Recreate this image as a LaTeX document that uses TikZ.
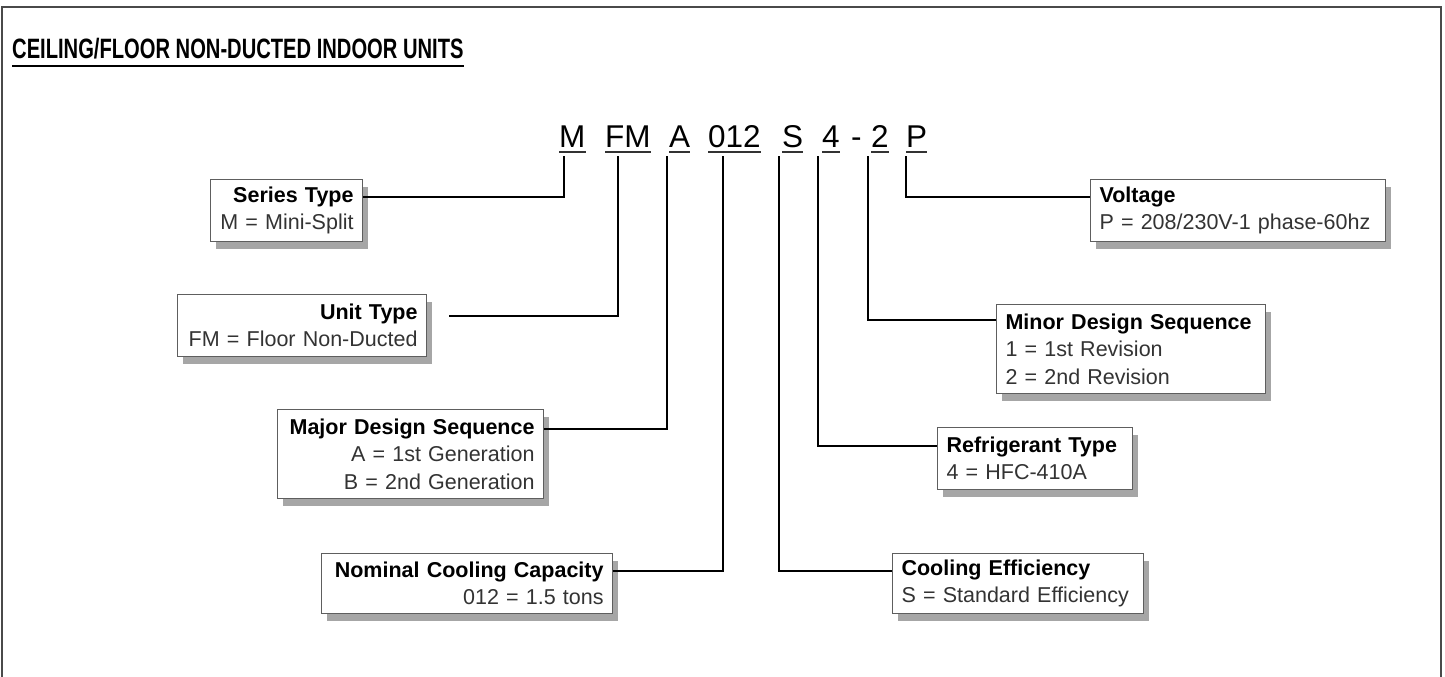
\documentclass[tikz,border=0pt]{standalone}
\usepackage{fontspec}
\setmainfont{Liberation Sans}
\newfontfamily\narrowfont{Liberation Sans}[FakeStretch=0.72]
\usetikzlibrary{shadows}
\definecolor{frame}{HTML}{4A4A4A}
\definecolor{boxline}{HTML}{5E5E5E}
\definecolor{bodytext}{HTML}{333333}
\newcommand\boxhead[1]{\textcolor{black}{\bfseries #1}}

\begin{document}
\begin{tikzpicture}[x=1pt,y=-1pt,
  codebox/.style={draw=boxline,line width=1.1pt,fill=white,inner xsep=9pt,inner ysep=0pt,
    font=\fontsize{21.5}{27.5}\selectfont,text=bodytext,anchor=north west,
    drop shadow={shadow xshift=5pt,shadow yshift=-7pt,opacity=.35,fill=black}},
  leftbox/.style={codebox,align=right},
  rightbox/.style={codebox,align=left},
  letter/.style={anchor=base west,inner sep=0pt,font=\fontsize{31.5}{31.5}\selectfont},
  lead/.style={line width=2pt},
  uline/.style={line width=2pt,draw=black!80}]
  \useasboundingbox (0,0) rectangle (1445,677);
  \draw[frame,line width=1.5pt] (2,700) -- (2,7) -- (1441,7) -- (1441,700);

  \node[anchor=base west,inner sep=0pt,font=\narrowfont\bfseries\fontsize{28}{28}\selectfont]
    (title) at (12,59) {CEILING/FLOOR NON-DUCTED INDOOR UNITS};
  \draw[line width=2.2pt] ([yshift=-7pt]title.base west) -- ([yshift=-7pt]title.base east);

  % model number
  \node[letter] (cM) at (559,147) {M};
  \node[letter] (cFM) at (605,147) {FM};
  \node[letter] (cA) at (669,147) {A};
  \node[letter] (c012) at (708,147) {012};
  \node[letter] (cS) at (782,147) {S};
  \node[letter] (c4) at (822,147) {4};
  \node[letter] (cdash) at (851,147) {-};
  \node[letter] (c2) at (871,147) {2};
  \node[letter] (cP) at (906,147) {P};
  \foreach \c in {cM,cFM,cA,c012,cS,c4,c2,cP}
    \draw[uline] ([yshift=-5pt]\c.base west) -- ([yshift=-5pt]\c.base east);

  \coordinate (tM) at (564,156);
  \coordinate (tFM) at (618,156);
  \coordinate (tA) at (667,156);
  \coordinate (t012) at (723,156);
  \coordinate (tS) at (779,156);
  \coordinate (t4) at (818,156);
  \coordinate (t2) at (868,156);
  \coordinate (tP) at (906,156);

  % left side
  \node[leftbox,text width=134pt,minimum height=62pt] (series) at (210,179)
    {\boxhead{Series Type}\\M = Mini-Split};
  \node[leftbox,text width=231pt,minimum height=62pt] (unit) at (177,294)
    {\boxhead{Unit Type}\\FM = Floor Non-Ducted};
  \node[leftbox,text width=248pt,minimum height=89pt] (major) at (277,409)
    {\boxhead{Major Design Sequence}\\A = 1st Generation\\B = 2nd Generation};
  \node[leftbox,text width=273pt,minimum height=60pt] (nominal) at (321,553)
    {\boxhead{Nominal Cooling Capacity}\\012 = 1.5 tons};

  % right side
  \node[rightbox,text width=277pt,minimum height=62pt] (voltage) at (1090,179)
    {\boxhead{Voltage}\\P = 208/230V-1 phase-60hz};
  \node[rightbox,text width=251pt,minimum height=89pt] (minor) at (996,304)
    {\boxhead{Minor Design Sequence}\\1 = 1st Revision\\2 = 2nd Revision};
  \node[rightbox,text width=177pt,minimum height=62pt] (refrig) at (937,427)
    {\boxhead{Refrigerant Type}\\4 = HFC-410A};
  \node[rightbox,text width=233pt,minimum height=60pt] (cooling) at (892,553)
    {\boxhead{Cooling Efficiency}\\S = Standard Efficiency};

  \draw[lead] (tM) |- ([yshift=-18pt]series.north east);
  \draw[lead] (tFM) |- ([xshift=22pt,yshift=-22pt]unit.north east);
  \draw[lead] (tA) |- ([yshift=-20pt]major.north east);
  \draw[lead] (t012) |- ([yshift=-18pt]nominal.north east);
  \draw[lead] (tS) |- ([yshift=-18pt]cooling.north west);
  \draw[lead] (t4) |- ([yshift=-19pt]refrig.north west);
  \draw[lead] (t2) |- ([yshift=-16pt]minor.north west);
  \draw[lead] (tP) |- ([yshift=-18pt]voltage.north west);
\end{tikzpicture}
\end{document}
